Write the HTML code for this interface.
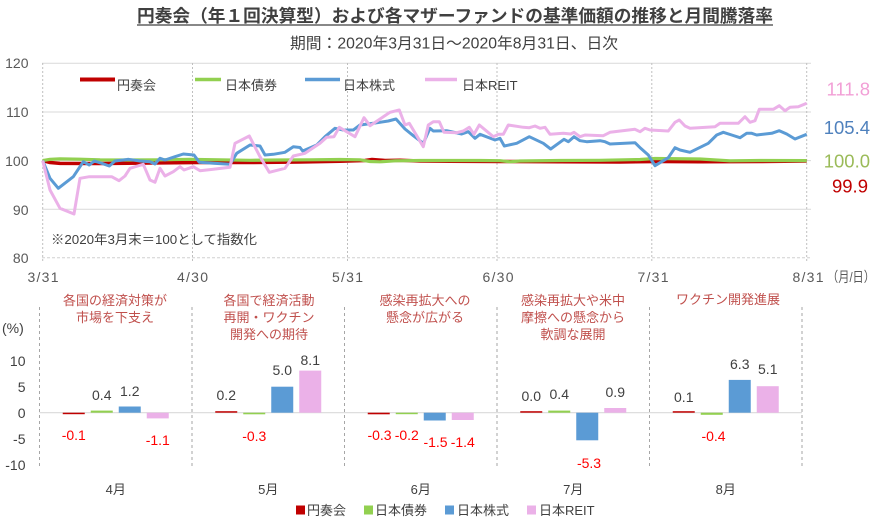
<!DOCTYPE html>
<html>
<head>
<meta charset="utf-8">
<style>
html,body{margin:0;padding:0;background:#fff;}
svg{display:block;}
text{font-family:"Liberation Sans","Noto Sans CJK JP",sans-serif;}
</style>
</head>
<body>
<svg width="887" height="523" viewBox="0 0 887 523" xmlns="http://www.w3.org/2000/svg">
<rect width="887" height="523" fill="#fff"/>

<!-- Title -->
<text x="137" y="22" font-size="17.5" font-weight="bold" fill="#404040" textLength="636" lengthAdjust="spacingAndGlyphs">円奏会（年１回決算型）および各マザーファンドの基準価額の推移と月間騰落率</text>
<line x1="137" y1="25" x2="773" y2="25" stroke="#404040" stroke-width="1.2"/>
<text x="290" y="48.5" font-size="15.5" fill="#404040" textLength="328" lengthAdjust="spacingAndGlyphs">期間：2020年3月31日～2020年8月31日、日次</text>

<!-- Top chart grid -->
<g stroke="#D9D9D9" stroke-width="1">
<line x1="42" y1="63.3" x2="811" y2="63.3"/>
<line x1="42" y1="112" x2="811" y2="112"/>
<line x1="42" y1="160.6" x2="811" y2="160.6"/>
<line x1="42" y1="209.3" x2="811" y2="209.3"/>
</g>
<line x1="42" y1="257.7" x2="811" y2="257.7" stroke="#D0D0D0" stroke-width="1" stroke-dasharray="3,2"/>
<g stroke="#BFBFBF" stroke-width="1" stroke-dasharray="2,2">
<line x1="42.7" y1="63" x2="42.7" y2="262"/>
<line x1="192.5" y1="63" x2="192.5" y2="262"/>
<line x1="347.5" y1="63" x2="347.5" y2="262"/>
<line x1="497" y1="63" x2="497" y2="262"/>
<line x1="651.8" y1="63" x2="651.8" y2="262"/>
<line x1="806.7" y1="63" x2="806.7" y2="262"/>
</g>

<!-- Y labels top -->
<g font-size="14" fill="#595959" text-anchor="end">
<text x="28.5" y="68">120</text>
<text x="28.5" y="117">110</text>
<text x="28.5" y="166">100</text>
<text x="28.5" y="215">90</text>
<text x="28.5" y="263">80</text>
</g>
<!-- X labels top -->
<g font-size="14" fill="#595959" text-anchor="middle">
<text x="43" y="282" textLength="31">3/31</text>
<text x="192.5" y="282" textLength="31">4/30</text>
<text x="347.5" y="282" textLength="31">5/31</text>
<text x="498" y="282" textLength="31">6/30</text>
<text x="653" y="282" textLength="31">7/31</text>
<text x="808" y="282" textLength="31">8/31</text>
</g>
<text x="827" y="282" font-size="14" fill="#595959" textLength="48" lengthAdjust="spacingAndGlyphs">（月/日）</text>

<!-- Note -->
<text x="51" y="244" font-size="13" fill="#404040" textLength="206" lengthAdjust="spacingAndGlyphs">※2020年3月末＝100として指数化</text>

<!-- Series -->
<polyline fill="none" stroke="#C00000" stroke-width="3.5" stroke-linejoin="round" points="42.7,160.6 50,162.5 60,163.4 100,163.5 150,163 200,162.5 250,162.5 300,162 340,161.3 365,160.5 372,159.5 385,160.5 400,160.2 420,161 450,161.2 500,161.5 560,161.8 620,162 660,161.5 700,161.8 760,161.5 806.7,161"/>
<polyline fill="none" stroke="#92D050" stroke-width="3.2" stroke-linejoin="round" points="42.7,160.6 50,159.3 60,158.8 80,159.2 100,159.8 130,160 160,159.8 190,159.3 220,159.8 250,160.3 280,160 310,159.8 340,159.5 360,159.8 370,161.5 380,161.8 395,160.8 420,160.5 480,160.5 500,160.7 510,161.8 520,161 560,160.5 600,160.3 640,159.5 655,158.5 700,159 730,160.8 760,160.5 806.7,160.6"/>
<polyline fill="none" stroke="#5B9BD5" stroke-width="3" stroke-linejoin="round" points="42.7,160.6 50,178.3 58.3,188.3 73.3,176.7 83.3,161.7 89.3,165 94.3,161 101.7,163.3 109.3,166 115,161 128.3,159.3 140,161 150,161.7 155,164 160,158.3 165,160 175,156.7 183.3,154 194,155 199.3,162.3 213.3,163.3 230,164.3 236.7,153.3 250,145 260,146 265,155 273.3,154.3 285,152.3 293.3,146.7 300,147.5 302.7,151 316.7,145 325,136.7 335,128.3 343.3,130 353.3,130 360,125 373.3,123.3 388.3,121 396,119 405,129 413.3,135.7 423.3,143.3 430,128.3 433.3,131 446.7,130.7 461.7,134 468.3,131.7 475,138.3 480,134.3 495,140 500,138.3 504.3,146 516.7,143.3 529.3,136.7 543.3,143.3 550.7,149 564,139.3 568.3,141.7 574,136.7 580,140.7 586.7,141.7 600,140.7 605,141.7 610,144 635,142.7 640.7,148.3 648.3,155 655,165.7 668.3,157.7 675,147.7 680,150 690,152.3 708.3,143.3 716.7,135 723.3,132.3 731.7,135 740,137.7 746.7,133.3 751.7,133.3 756.7,135 771.7,133.3 779.3,130.7 786.7,134 795,139 806.7,134.3"/>
<polyline fill="none" stroke="#EBB1E8" stroke-width="3" stroke-linejoin="round" points="42.7,160.6 50,190 60,208.3 74,214 80,178.3 89.3,176.7 111.7,176.7 119,180.7 125,176 130,168.3 143.3,164.3 150,180 155,182.3 160,168.3 165,176 173.3,171.7 180,166.7 184,170 193.3,166.7 200,170.7 213.3,169.3 230,167.3 235,143.3 249.3,136 260,156.7 269.3,172.3 285,168.3 293.3,156 305,153.3 320,143.3 326.7,137.3 334,136.7 339.3,127.3 355,136.7 364,117.7 370,125.7 390,112.3 399.3,110 405,125 409.3,123.3 423.3,146.7 428.3,125 433.3,121.7 439.3,121.7 444,132.3 456.7,132.7 463.3,131 469.3,127.3 474,134.3 479.3,125 493.3,136.7 498.3,134.3 503.3,134.3 508.3,125 523.3,127.3 529.3,127.7 535,126 540,128.3 545,127.3 550,134.3 563.3,133.3 570.7,134 574,132.3 580,136.7 585,135 603.3,135.7 610,132.3 635,129.3 640,131.7 645,128.3 650,130 668.3,131 675,122.3 679.3,120 685,126 690,128.3 715,126.7 720,123.3 738.3,123.3 745,116.7 750,122.3 755,120.7 759.3,109.3 773.3,109.3 779.3,105.7 785,110.7 790,107.3 798.3,106.7 806.7,103.2"/>

<!-- Top legend -->
<line x1="80" y1="79.5" x2="115" y2="79.5" stroke="#C00000" stroke-width="4"/>
<text x="117" y="90" font-size="13" fill="#404040">円奏会</text>
<line x1="195" y1="79.5" x2="221" y2="79.5" stroke="#92D050" stroke-width="3.5"/>
<text x="225" y="90" font-size="13" fill="#404040">日本債券</text>
<line x1="305" y1="79.5" x2="340" y2="79.5" stroke="#5B9BD5" stroke-width="3.5"/>
<text x="343" y="90" font-size="13" fill="#404040">日本株式</text>
<line x1="425" y1="79.5" x2="457" y2="79.5" stroke="#EBB1E8" stroke-width="3.5"/>
<text x="462" y="90" font-size="13" fill="#404040">日本REIT</text>

<!-- Right value labels -->
<g font-size="18.5" text-anchor="end">
<text x="870" y="95.5" fill="#F29FD6">111.8</text>
<text x="870" y="134" fill="#4F81BD">105.4</text>
<text x="870" y="167.5" fill="#9BBB59">100.0</text>
<text x="868" y="192.5" fill="#C00000">99.9</text>
</g>

<!-- Bottom chart -->
<text x="2" y="333" font-size="14" fill="#404040">(%)</text>
<g font-size="14" fill="#404040" text-anchor="end">
<text x="25.5" y="366">10</text>
<text x="25.5" y="392">5</text>
<text x="25.5" y="418">0</text>
<text x="25.5" y="444">-5</text>
<text x="25.5" y="470">-10</text>
</g>
<line x1="39.5" y1="412.7" x2="802" y2="412.7" stroke="#D9D9D9" stroke-width="1.2"/>
<g stroke="#A6A6A6" stroke-width="1" stroke-dasharray="3,3">
<line x1="39.5" y1="307" x2="39.5" y2="467"/>
<line x1="192" y1="307" x2="192" y2="467"/>
<line x1="344.5" y1="307" x2="344.5" y2="467"/>
<line x1="497" y1="307" x2="497" y2="467"/>
<line x1="649.5" y1="307" x2="649.5" y2="467"/>
<line x1="802" y1="307" x2="802" y2="467"/>
</g>

<!-- Bars -->
<g>
<!-- April -->
<rect x="62.75" y="412.7" width="22" height="1.5" fill="#C00000"/>
<rect x="90.75" y="410.6" width="22" height="2.1" fill="#92D050"/>
<rect x="118.75" y="406.5" width="22" height="6.2" fill="#5B9BD5"/>
<rect x="146.75" y="412.7" width="22" height="5.7" fill="#EBB1E8"/>
<!-- May -->
<rect x="215.25" y="411.2" width="22" height="1.5" fill="#C00000"/>
<rect x="243.25" y="412.7" width="22" height="1.6" fill="#92D050"/>
<rect x="271.25" y="386.7" width="22" height="26" fill="#5B9BD5"/>
<rect x="299.25" y="370.6" width="22" height="42.1" fill="#EBB1E8"/>
<!-- June -->
<rect x="367.75" y="412.7" width="22" height="1.6" fill="#C00000"/>
<rect x="395.75" y="412.7" width="22" height="1.5" fill="#92D050"/>
<rect x="423.75" y="412.7" width="22" height="7.8" fill="#5B9BD5"/>
<rect x="451.75" y="412.7" width="22" height="7.3" fill="#EBB1E8"/>
<!-- July -->
<rect x="520.25" y="411.2" width="22" height="1.5" fill="#C00000"/>
<rect x="548.25" y="410.6" width="22" height="2.1" fill="#92D050"/>
<rect x="576.25" y="412.7" width="22" height="27.6" fill="#5B9BD5"/>
<rect x="604.25" y="408" width="22" height="4.7" fill="#EBB1E8"/>
<!-- August -->
<rect x="672.75" y="411.2" width="22" height="1.5" fill="#C00000"/>
<rect x="700.75" y="412.7" width="22" height="2.1" fill="#92D050"/>
<rect x="728.75" y="379.9" width="22" height="32.8" fill="#5B9BD5"/>
<rect x="756.75" y="386.2" width="22" height="26.5" fill="#EBB1E8"/>
</g>

<!-- Positive labels -->
<g font-size="14" fill="#404040" text-anchor="middle">
<text x="101.75" y="400">0.4</text>
<text x="129.75" y="396">1.2</text>
<text x="226.25" y="400">0.2</text>
<text x="282.25" y="375">5.0</text>
<text x="310.25" y="365">8.1</text>
<text x="531.25" y="401">0.0</text>
<text x="559.25" y="399">0.4</text>
<text x="615.25" y="397">0.9</text>
<text x="683.75" y="402">0.1</text>
<text x="739.75" y="369">6.3</text>
<text x="767.75" y="374">5.1</text>
</g>
<!-- Negative labels -->
<g font-size="14" fill="#FF0000" text-anchor="middle">
<text x="73.75" y="440">-0.1</text>
<text x="157.75" y="445">-1.1</text>
<text x="254.25" y="441">-0.3</text>
<text x="379.5" y="440">-0.3</text>
<text x="406.75" y="440">-0.2</text>
<text x="435.5" y="447">-1.5</text>
<text x="462.75" y="447">-1.4</text>
<text x="589" y="468">-5.3</text>
<text x="713.5" y="441">-0.4</text>
</g>

<!-- Annotations -->
<g font-size="13" fill="#C0504D" text-anchor="middle">
<text x="115" y="305">各国の経済対策が</text>
<text x="115" y="322">市場を下支え</text>
<text x="269" y="305">各国で経済活動</text>
<text x="269" y="322">再開・ワクチン</text>
<text x="269" y="339">開発への期待</text>
<text x="425" y="305">感染再拡大への</text>
<text x="425" y="322">懸念が広がる</text>
<text x="573" y="305">感染再拡大や米中</text>
<text x="573" y="322">摩擦への懸念から</text>
<text x="573" y="339">軟調な展開</text>
<text x="728" y="304">ワクチン開発進展</text>
</g>

<!-- Month labels -->
<g font-size="13" fill="#404040" text-anchor="middle">
<text x="115.75" y="494">4月</text>
<text x="268.25" y="494">5月</text>
<text x="420.75" y="494">6月</text>
<text x="573.25" y="494">7月</text>
<text x="725.75" y="494">8月</text>
</g>

<!-- Bottom legend -->
<rect x="296" y="505.5" width="9" height="9" fill="#C00000"/>
<text x="307" y="515" font-size="13" fill="#404040">円奏会</text>
<rect x="364" y="505.5" width="9" height="9" fill="#92D050"/>
<text x="375" y="515" font-size="13" fill="#404040">日本債券</text>
<rect x="445" y="505.5" width="9" height="9" fill="#5B9BD5"/>
<text x="457" y="515" font-size="13" fill="#404040">日本株式</text>
<rect x="527" y="505.5" width="9" height="9" fill="#EBB1E8"/>
<text x="539" y="515" font-size="13" fill="#404040">日本REIT</text>
</svg>
</body>
</html>
